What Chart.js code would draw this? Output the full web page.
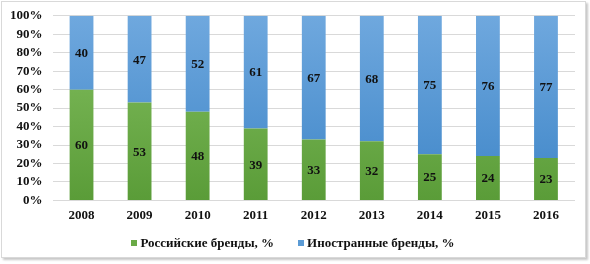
<!DOCTYPE html>
<html lang="ru">
<head>
    <meta charset="UTF-8">
    <title>Бренды</title>
    <style>
        body {
            margin: 0;
            padding: 0;
            background: #ffffff;
            font-family: "Liberation Serif", "Times New Roman", serif;
        }
        .frame {
            position: absolute;
            left: 1px;
            top: 1px;
            width: 583px;
            height: 255px;
            border: 1px solid #d9d9d9;
            box-shadow: 2px 2px 2px #c8c8c8;
            background: #ffffff;
            overflow: hidden;
        }
        .frame canvas {
            position: absolute;
            left: 0;
            top: -4px;
        }
        #legend {
            position: absolute;
            left: -2px;
            width: 590px;
            top: 235px;
            height: 16px;
            line-height: 16px;
            display: flex;
            justify-content: center;
            gap: 24px;
            font-size: 13px;
            font-weight: bold;
            color: #111111;
        }
        #legend span.box {
            display: inline-block;
            width: 6px;
            height: 6px;
            margin-right: 3px;
            vertical-align: 1px;
        }
    </style>
</head>
<body>
    <div class="frame">
        <canvas id="brandChart" width="583" height="259"></canvas>
    </div>
    <div id="legend"></div>

    <script src="https://cdn.jsdelivr.net/npm/chart.js"></script>
    <script>
        const years = ['2008', '2009', '2010', '2011', '2012', '2013', '2014', '2015', '2016'];
        const russianBrands = [60, 53, 48, 39, 33, 32, 25, 24, 23];
        const foreignBrands = [40, 47, 52, 61, 67, 68, 75, 76, 77];
        const seriesNames = ['Российские бренды, %', 'Иностранные бренды, %'];
        const legendColors = ['#6aaa46', '#5b9bd5'];

        const font = { family: '"Liberation Serif", "Times New Roman", serif', size: 13, weight: 'bold' };

        function gradient(ctx, top, bottom) {
            const area = ctx.chart.chartArea;
            if (!area) return bottom;
            const g = ctx.chart.ctx.createLinearGradient(0, area.top, 0, area.bottom);
            g.addColorStop(0, top);
            g.addColorStop(1, bottom);
            return g;
        }

        // value labels in the middle of each segment
        const barLabels = {
            id: 'barLabels',
            afterDatasetsDraw(chart) {
                const c = chart.ctx;
                c.save();
                c.font = 'bold 13px "Liberation Serif", serif';
                c.fillStyle = '#111111';
                c.textAlign = 'center';
                c.textBaseline = 'middle';
                chart.data.datasets.forEach((ds, i) => {
                    chart.getDatasetMeta(i).data.forEach((bar, j) => {
                        c.fillText(ds.data[j], bar.x, (bar.y + bar.base) / 2 + 1);
                    });
                });
                c.restore();
            }
        };

        new Chart(document.getElementById('brandChart'), {
            type: 'bar',
            data: {
                labels: years,
                datasets: [{
                    label: seriesNames[0],
                    data: russianBrands,
                    backgroundColor: ctx => gradient(ctx, '#84bf60', '#5a9c38'),
                    borderWidth: 0
                }, {
                    label: seriesNames[1],
                    data: foreignBrands,
                    backgroundColor: ctx => gradient(ctx, '#6fa8de', '#3f86c8'),
                    borderWidth: 0
                }]
            },
            options: {
                responsive: false,
                animation: false,
                datasets: {
                    bar: { barPercentage: 0.41, categoryPercentage: 1 }
                },
                layout: {
                    padding: { top: 0, right: 10, left: -2, bottom: 27 }
                },
                scales: {
                    x: {
                        stacked: true,
                        grid: { display: false, drawTicks: false },
                        border: { display: false },
                        ticks: { color: '#111111', font: font, padding: 7 }
                    },
                    y: {
                        stacked: true,
                        min: 0,
                        max: 100,
                        border: { display: false },
                        grid: { color: '#d9d9d9', drawTicks: false },
                        ticks: {
                            stepSize: 10,
                            autoSkip: false,
                            color: '#111111',
                            font: font,
                            padding: 10,
                            callback: v => v + '%'
                        }
                    }
                },
                plugins: {
                    legend: { display: false },
                    tooltip: { enabled: false }
                }
            },
            plugins: [barLabels]
        });

        // legend below the chart
        const legend = document.getElementById('legend');
        seriesNames.forEach((name, i) => {
            const item = document.createElement('div');
            item.innerHTML = '<span class="box" style="background:' + legendColors[i] + '"></span>' + name;
            legend.appendChild(item);
        });
    </script>
</body>
</html>
